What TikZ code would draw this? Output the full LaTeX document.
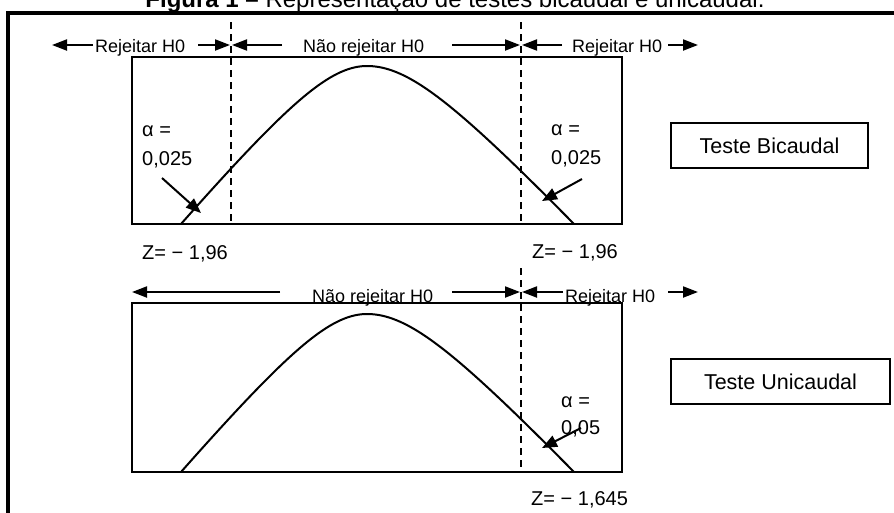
\documentclass[tikz,border=0pt]{standalone}
\usepackage{fontspec}
\setmainfont{Liberation Sans}
\usetikzlibrary{arrows.meta}
\tikzset{
  frameline/.style={line width=4pt},
  plotbox/.style={line width=2pt},
  critline/.style={line width=2pt, dash pattern=on 7pt off 5pt},
  curveline/.style={line width=2pt, line join=round},
  regarrow/.style={line width=2pt, -{Triangle[length=15pt,width=11pt]}},
  ptrarrow/.style={line width=2pt, -{Triangle[length=15pt,width=12pt]}},
  rowlabel/.style={font=\fontsize{18}{20}\selectfont, inner sep=0pt, anchor=base west},
  numlabel/.style={font=\fontsize{20}{24}\selectfont, inner sep=0pt, anchor=base west},
  testbox/.style={draw, line width=1.5pt, font=\fontsize{21.5}{24}\selectfont, minimum height=45pt, inner sep=0pt}
}
% hump shape: hyperbola-like, round top and nearly straight flanks
\pgfmathdeclarefunction{hump}{1}{\pgfmathparse{(sqrt(0.1225+#1*#1)-0.35)/0.7095}}
\begin{document}
\begin{tikzpicture}[x=1pt,y=-1pt]
\useasboundingbox (0,0) rectangle (894,512);
% title (cut at top, as in the reference)
\node[font=\fontsize{24}{26}\selectfont, anchor=base, inner sep=0pt] (title) at (455,7) {\textbf{Figura 1 –} Representação de testes bicaudal e unicaudal.};
% outer frame
\coordinate (fTL) at (8,13);
\coordinate (fTR) at (900,13);
\coordinate (fBL) at (8,520);
\draw[frameline] (fTR) -- (fTL) -- (fBL);

% ===== top panel =====
\coordinate (b1a) at (132,57);
\coordinate (b1b) at (622,224);
\draw[plotbox] (b1a) rectangle (b1b);
\draw[curveline] plot[domain=181:367, samples=70] (\x, {66+158*hump((367-\x)/186)})
  -- plot[domain=367:574, samples=70] (\x, {66+158*hump((\x-367)/207)});
\coordinate (d1t) at (231,22);
\coordinate (d1b) at (231,224);
\coordinate (d2t) at (521,22);
\coordinate (d2b) at (521,224);
\draw[critline] (d1t) -- (d1b);
\draw[critline] (d2t) -- (d2b);

% row 1 labels and arrows
\node[rowlabel] (r1a) at (95,52) {Rejeitar H0};
\node[rowlabel] (r1b) at (303,52) {Não rejeitar H0};
\node[rowlabel] (r1c) at (572,52) {Rejeitar H0};
\coordinate (a1s) at (93,45);  \coordinate (a1e) at (52,45);
\coordinate (a2s) at (198,45); \coordinate (a2e) at (230,45);
\coordinate (a3s) at (282,45); \coordinate (a3e) at (232,45);
\coordinate (a4s) at (452,45); \coordinate (a4e) at (520,45);
\coordinate (a5s) at (562,45); \coordinate (a5e) at (522,45);
\coordinate (a6s) at (668,45); \coordinate (a6e) at (698,45);
\foreach \s/\e in {a1s/a1e,a2s/a2e,a3s/a3e,a4s/a4e,a5s/a5e,a6s/a6e}
  \draw[regarrow] (\s) -- (\e);

% alpha labels top
\node[numlabel] (al1) at (142,136) {α =};
\node[numlabel] (av1) at (142,165) {0,025};
\coordinate (p1s) at (162,178); \coordinate (p1e) at (201,213);
\draw[ptrarrow] (p1s) -- (p1e);
\node[numlabel] (al2) at (551,135) {α =};
\node[numlabel] (av2) at (551,164) {0,025};
\coordinate (p2s) at (582,179); \coordinate (p2e) at (542,201);
\draw[ptrarrow] (p2s) -- (p2e);

\node[numlabel] (z1) at (142,259) {Z= − 1,96};
\node[numlabel] (z2) at (532,258) {Z= − 1,96};

\node[testbox, minimum width=197pt] (tb) at (769.5,145.5) {Teste Bicaudal};

% ===== bottom panel =====
\coordinate (b2a) at (132,303);
\coordinate (b2b) at (622,472);
\draw[plotbox] (b2a) rectangle (b2b);
\draw[curveline] plot[domain=181:367, samples=70] (\x, {314+158*hump((367-\x)/186)})
  -- plot[domain=367:574, samples=70] (\x, {314+158*hump((\x-367)/207)});
\coordinate (d3t) at (521,268);
\coordinate (d3b) at (521,472);
\draw[critline] (d3t) -- (d3b);

\node[rowlabel] (r2b) at (312,302) {Não rejeitar H0};
\node[rowlabel] (r2c) at (565,302) {Rejeitar H0};
\coordinate (c1s) at (280,292); \coordinate (c1e) at (132,292);
\coordinate (c2s) at (452,292); \coordinate (c2e) at (520,292);
\coordinate (c3s) at (563,292); \coordinate (c3e) at (522,292);
\coordinate (c4s) at (668,292); \coordinate (c4e) at (698,292);
\foreach \s/\e in {c1s/c1e,c2s/c2e,c3s/c3e,c4s/c4e}
  \draw[regarrow] (\s) -- (\e);

\node[numlabel] (al3) at (561,407) {α =};
\node[numlabel] (av3) at (561,434) {0,05};
\coordinate (p3s) at (581,428); \coordinate (p3e) at (542,448);
\draw[ptrarrow] (p3s) -- (p3e);

\node[numlabel] (z3) at (531,505) {Z= − 1,645};

\node[testbox, minimum width=219pt] (tu) at (780.5,381.5) {Teste Unicaudal};
\end{tikzpicture}
\end{document}
